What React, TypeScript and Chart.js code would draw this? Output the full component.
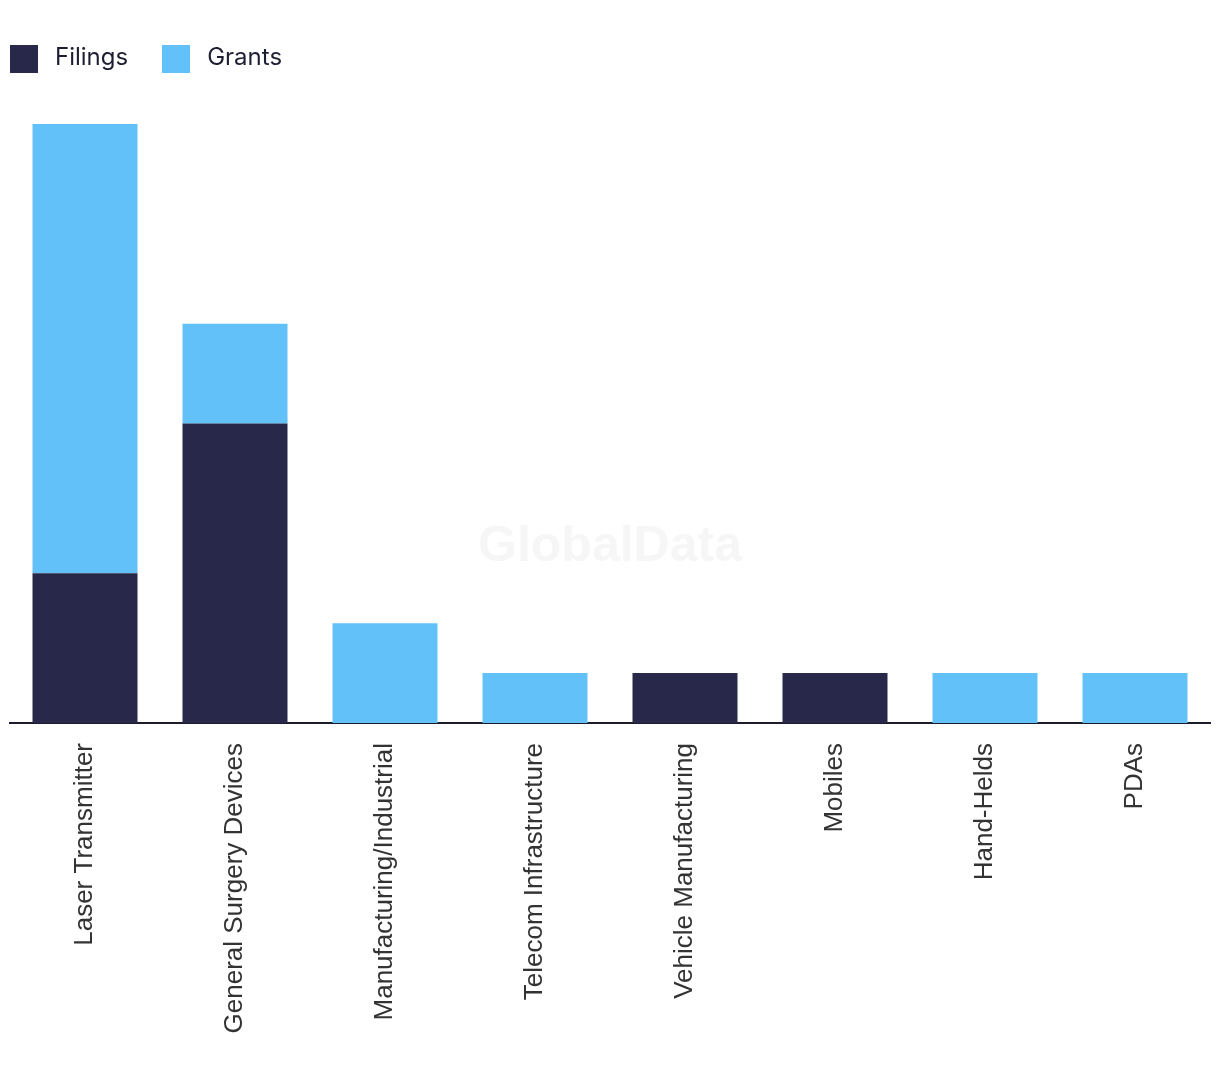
import React, { useEffect, useRef } from "react";
import { Chart, registerables } from "chart.js";

Chart.register(...registerables);

const categories = [
  "Laser Transmitter",
  "General Surgery Devices",
  "Manufacturing/Industrial",
  "Telecom Infrastructure",
  "Vehicle Manufacturing",
  "Mobiles",
  "Hand-Helds",
  "PDAs",
];
const filings = [3, 6, 0, 0, 1, 1, 0, 0];
const grants = [9, 2, 2, 1, 0, 0, 1, 1];
const seriesNames = ["Filings", "Grants"];
const seriesColors = ["#28294a", "#62c1f9"];

const watermark = {
  id: "watermark",
  beforeDraw(chart: any) {
    const ctx = chart.ctx;
    ctx.save();
    ctx.font = "bold 50px 'Liberation Sans', Arial, sans-serif";
    ctx.fillStyle = "#f6f6f6";
    ctx.textAlign = "center";
    ctx.textBaseline = "alphabetic";
    ctx.fillText("GlobalData", 602, 553);
    ctx.restore();
  },
};

export default function App() {
  const ref = useRef<HTMLCanvasElement | null>(null);
  useEffect(() => {
    if (!ref.current) return;
    const chart = new Chart(ref.current, {
      type: "bar",
      data: {
        labels: categories,
        datasets: [
          { label: seriesNames[0], data: filings, backgroundColor: seriesColors[0] },
          { label: seriesNames[1], data: grants, backgroundColor: seriesColors[1] },
        ],
      },
      options: {
        animation: false,
        responsive: false,
        maintainAspectRatio: false,
        layout: { padding: { top: 116, left: 2, right: 2, bottom: 0 } },
        datasets: { bar: { barPercentage: 0.7, categoryPercentage: 1 } },
        plugins: { legend: { display: false }, tooltip: { enabled: false } },
        scales: {
          x: {
            stacked: true,
            grid: { display: false, drawTicks: false },
            border: { display: true, color: "#1c1c2c", width: 2 },
            ticks: {
              maxRotation: 90,
              minRotation: 90,
              padding: 20,
              color: "#333333",
              font: { family: "'Liberation Sans', Arial, sans-serif", size: 26 },
            },
            afterFit: (scale: any) => {
              scale.height = 1076 - 715;
            },
          },
          y: {
            stacked: true,
            display: false,
            min: 0,
            max: 12,
          },
        },
      },
      plugins: [watermark],
    });
    return () => chart.destroy();
  }, []);

  const legendItem = (i: number, ml: number) => (
    <div style={{ display: "flex", alignItems: "center", marginLeft: ml }}>
      <div style={{ width: 28, height: 28, background: seriesColors[i] }} />
      <span style={{ marginLeft: 17, fontFamily: "Inter, 'Noto Sans', sans-serif", fontSize: 24, lineHeight: "28px", color: "#1e1e32", position: "relative", top: -2 }}>
        {seriesNames[i]}
      </span>
    </div>
  );

  return (
    <div style={{ position: "relative", width: 1204, height: 1076 }}>
      <canvas ref={ref} width={1204} height={1076} style={{ position: "absolute", left: 0, top: 0 }} />
      <div style={{ position: "absolute", left: 2, top: 37, display: "flex", height: 28, alignItems: "center" }}>
        {legendItem(0, 0)}
        {legendItem(1, 34)}
      </div>
    </div>
  );
}
